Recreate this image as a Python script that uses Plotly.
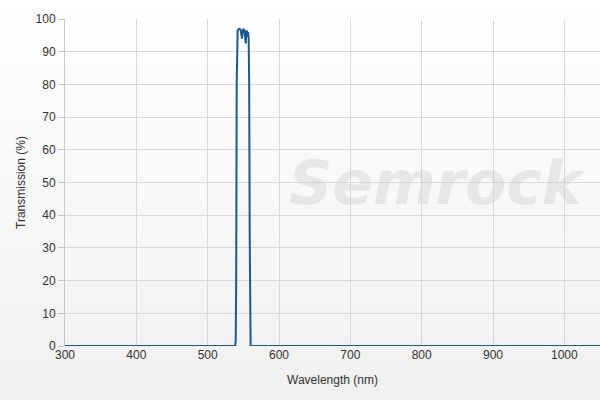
import plotly.graph_objects as go

# Data
wavelength = [300, 500, 538.5, 539.3, 540.0, 540.7, 541.3, 542.0, 543.0, 544.5, 546.0, 547.3, 548.2,
              549.3, 550.5, 551.5, 552.5, 553.4, 554.3, 555.2, 556.0, 556.8, 557.5, 558.2,
              558.9, 559.5, 560.2, 600, 800, 1050]
transmission = [0, 0, 0, 1.5, 20, 80, 95, 96.5, 96.8, 97, 96.8, 95.5, 94,
                96.5, 97, 96.5, 95, 92.5, 96.5, 96.2, 94.5, 96, 94, 80,
                35, 4, 0, 0, 0, 0]

x_ticks = [300, 400, 500, 600, 700, 800, 900, 1000]
y_ticks = [0, 10, 20, 30, 40, 50, 60, 70, 80, 90, 100]

fig = go.Figure()
fig.add_trace(go.Scatter(x=wavelength, y=transmission, mode="lines",
                         line=dict(color="#1b5a8c", width=2), hoverinfo="x+y",
                         showlegend=False))

# background gradient bands
shapes = []
n = 30
for i in range(n):
    t = i / (n - 1)
    c = int(round(255 - t * 15))
    y0 = 1 - i / n
    y1 = 1 - (i + 1) / n
    shapes.append(dict(type="rect", xref="paper", yref="paper", x0=-0.2, x1=1.05,
                       y0=-0.17 + 1.23 * y1, y1=-0.17 + 1.23 * y0 + 0.002,
                       fillcolor=f"rgb({c},{c},{c})", line=dict(width=0), layer="below"))

fig.update_layout(
    width=600, height=400,
    margin=dict(l=65, r=0, t=19, b=54),
    paper_bgcolor="#f8f8f8",
    plot_bgcolor="rgba(0,0,0,0)",
    font=dict(family="Liberation Sans, Arial, sans-serif", size=12, color="#333333"),
    shapes=shapes,
    xaxis=dict(range=[300, 1050], tickvals=x_ticks, showgrid=True, gridcolor="#d9d9d9",
               gridwidth=1, zeroline=False, showline=False, ticks="",
               title=dict(text="Wavelength (nm)", font=dict(size=12, color="#333333"), standoff=14),
               tickfont=dict(size=12, color="#333333")),
    yaxis=dict(range=[0, 100], tickvals=y_ticks, showgrid=True, gridcolor="#d9d9d9",
               gridwidth=1, zeroline=False, showline=True, linecolor="#c8c8c8",
               ticks="outside", ticklen=6, tickcolor="#c8c8c8",
               title=dict(text="Transmission (%)", font=dict(size=12, color="#333333"), standoff=7),
               tickfont=dict(size=12, color="#333333")),
    annotations=[dict(text="<b><i>Semrock</i></b>", xref="paper", yref="paper",
                      x=0.695, y=0.50, xanchor="center", yanchor="middle", showarrow=False,
                      font=dict(family="DejaVu Sans", size=60, color="rgba(205,205,205,0.4)"))],
)

fig.write_html("out.html", config={"displayModeBar": False},
               post_script="document.body.style.margin='0';document.body.style.overflow='hidden';")
